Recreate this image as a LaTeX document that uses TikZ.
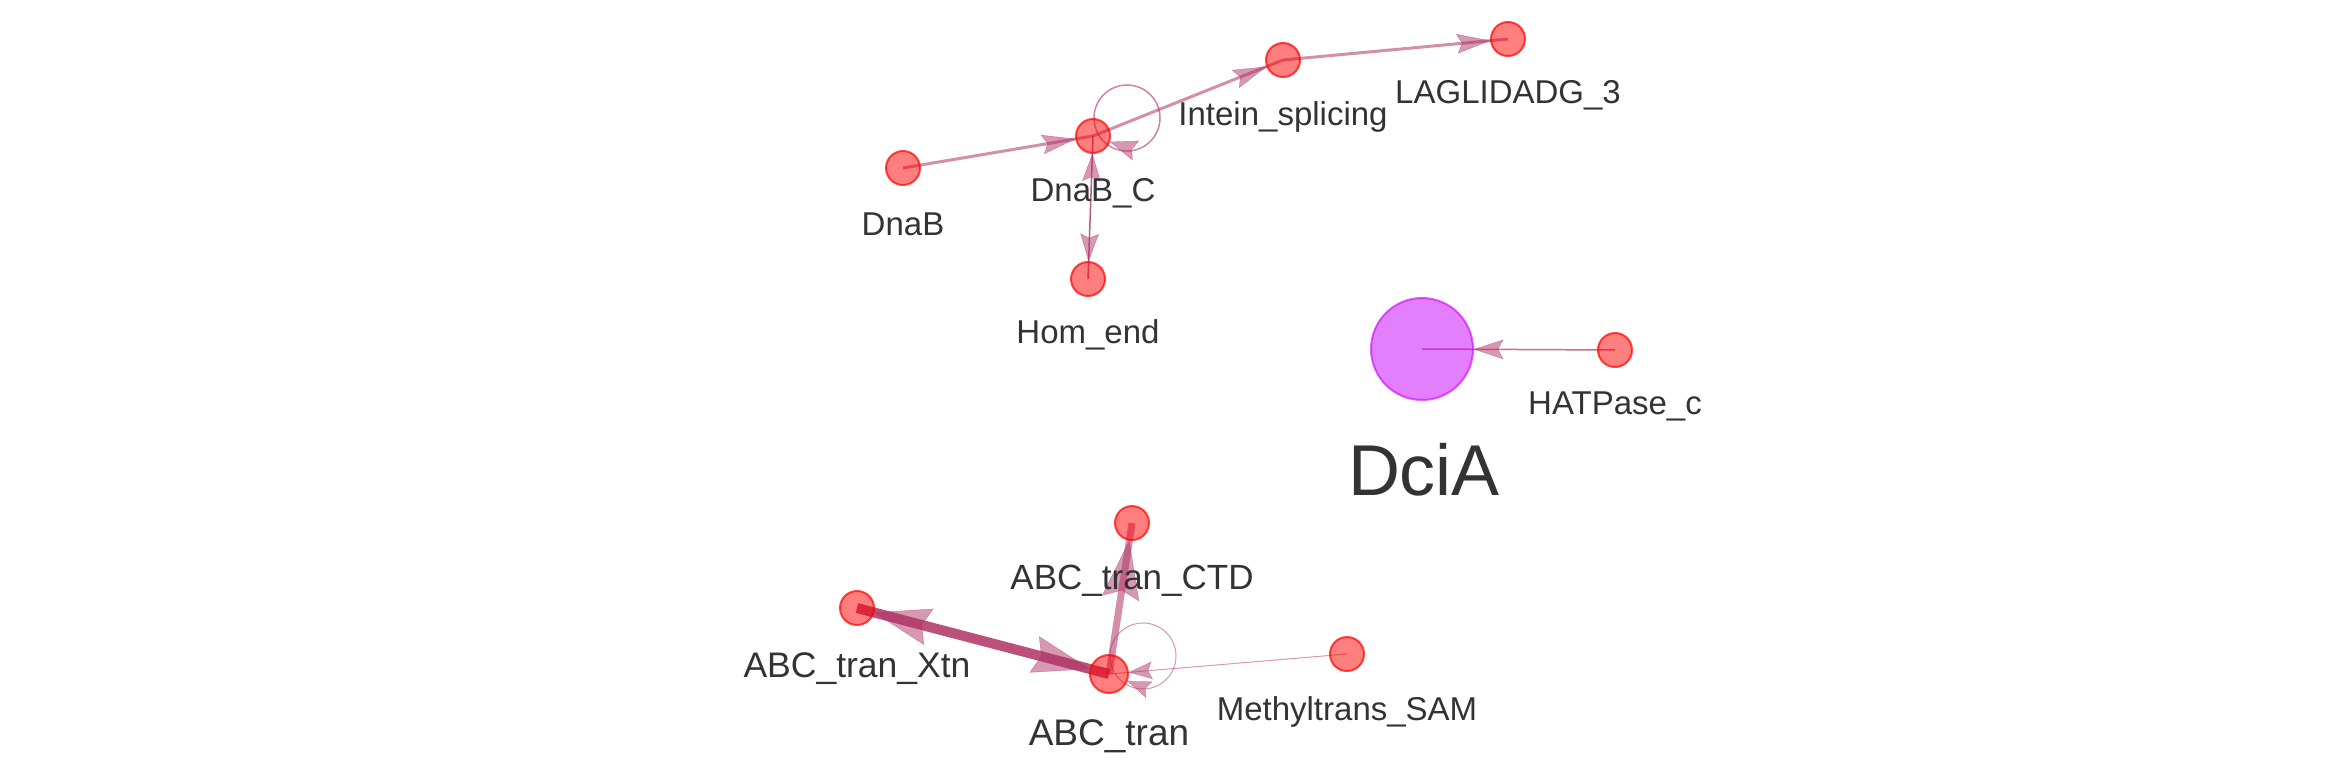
\documentclass[tikz,border=0pt]{standalone}
\usepackage{fontspec}
\setmainfont{Liberation Sans}
\usetikzlibrary{arrows.meta,decorations.markings,calc}
\pgfdeclarelayer{bg}
\pgfsetlayers{bg,main}
\definecolor{edgecol}{RGB}{175,50,100}
\definecolor{nodecol}{RGB}{255,0,0}
\definecolor{labcol}{RGB}{51,51,51}
\definecolor{dciacol}{RGB}{200,0,250}
\tikzset{
  dom/.style={circle, inner sep=0pt, minimum size=34pt, fill=nodecol, fill opacity=0.5,
    draw=nodecol, draw opacity=0.7, line width=2pt},
  lab/.style={anchor=base, text=labcol, font=\fontsize{33}{40}\selectfont, inner sep=0pt},
  edgeline/.style={draw=edgecol, draw opacity=#1},
  arrowonly/.style n args={3}{line width=0.1pt,
    decoration={markings, mark=at position 1 with {\pgfsetfillopacity{0.5}\pgfsetstrokeopacity{0.5}\pgfsetcolor{edgecol}\arrow[color=edgecol]{Stealth[length=#1pt, width=#2pt, inset=#3pt, color=edgecol]}}},
    decorate}
}
\begin{document}
\begin{tikzpicture}[x=1pt,y=-1pt]
\useasboundingbox (0,0) rectangle (2336,760);
% nodes
\node[dom] (DnaB) at (903,168) {};
\node[dom] (DnaBC) at (1093,136) {};
\node[dom] (Intein) at (1283,60) {};
\node[dom] (LAG) at (1508,39) {};
\node[dom] (Hom) at (1088,279) {};
\node[circle, inner sep=0pt, minimum size=102pt, fill=dciacol, fill opacity=0.5,
  draw=dciacol, draw opacity=0.6, line width=2pt] (DciA) at (1422,349) {};
\node[dom] (HAT) at (1615,350) {};
\node[dom] (CTD) at (1132,523) {};
\node[dom] (Xtn) at (857,608) {};
\node[dom, minimum size=38pt] (ABC) at (1109,674) {};
\node[dom] (Meth) at (1347,654) {};
% labels
\node[lab] (DnaBl) at ([yshift=-67pt]DnaB.center) {DnaB};
\node[lab] (DnaBCl) at ([yshift=-65pt]DnaBC.center) {DnaB\_C};
\node[lab] (Inteinl) at ([yshift=-65pt]Intein.center) {Intein\_splicing};
\node[lab] (LAGl) at ([yshift=-64pt]LAG.center) {LAGLIDADG\_3};
\node[lab] (Homl) at ([yshift=-64pt]Hom.center) {Hom\_end};
\node[lab, font=\fontsize{72}{86}\selectfont] (DciAl) at ([xshift=2pt,yshift=-146pt]DciA.center) {DciA};
\node[lab] (HATl) at ([yshift=-64pt]HAT.center) {HATPase\_c};
\node[lab, font=\fontsize{35}{42}\selectfont] (CTDl) at ([yshift=-66pt]CTD.center) {ABC\_tran\_CTD};
\node[lab, font=\fontsize{35.5}{42}\selectfont] (Xtnl) at ([yshift=-69pt]Xtn.center) {ABC\_tran\_Xtn};
\node[lab, font=\fontsize{37}{44}\selectfont] (ABCl) at ([yshift=-71pt]ABC.center) {ABC\_tran};
\node[lab] (Methl) at ([yshift=-66pt]Meth.center) {Methyltrans\_SAM};
% loop coordinates
\coordinate (DClp) at (1127,118);
\coordinate (DClpEnd) at (1140,152);
\coordinate (ABClp) at (1143,656);
\coordinate (ABClpEnd) at (1150,690);
\begin{pgfonlayer}{bg}
% edge lines
\draw[edgeline=0.55, line width=3pt] (DnaB.center) -- (DnaBC.center);
\draw[edgeline=0.55, line width=3pt] (DnaBC.center) -- (Intein.center);
\draw[edgeline=0.55, line width=3pt] (Intein.center) -- (LAG.center);
\draw[edgeline=0.8, line width=1.5pt] (DnaBC.center) -- (Hom.center);
\draw[edgeline=0.6, line width=1.5pt] (DClp) circle[radius=33pt];
\draw[edgeline=0.7, line width=1.5pt] (HAT.center) -- (DciA.center);
\draw[edgeline=0.85, line width=10pt] (Xtn.center) -- (ABC.center);
\draw[edgeline=0.55, line width=7pt] (ABC.center) -- (CTD.center);
\draw[edgeline=0.5, line width=1pt] (ABClp) circle[radius=33pt];
\draw[edgeline=0.5, line width=1pt] (Meth.center) -- (ABC.center);
% arrow heads
\path[arrowonly={33}{19}{5}] (DnaB) -- (DnaBC);
\path[arrowonly={33}{19}{5}] (DnaBC) -- (Intein);
\path[arrowonly={33}{19}{5}] (Intein) -- (LAG);
\path[arrowonly={27}{18}{4}] (DnaBC) -- (Hom);
\path[arrowonly={27}{18}{4}] (Hom) -- (DnaBC);
\path[arrowonly={27}{20}{4}] (DClpEnd) -- (DnaBC);
\path[arrowonly={29}{19}{5}] (HAT) -- (DciA);
\path[arrowonly={56}{37}{7}] (ABC) -- (Xtn);
\path[arrowonly={57}{37}{7}] (Xtn) -- (ABC);
\path[arrowonly={58}{37}{8}] (ABC) -- (CTD);
\path[arrowonly={23}{17}{4}] (ABClpEnd) -- (ABC);
\path[arrowonly={23}{17}{4}] (Meth) -- (ABC);
\end{pgfonlayer}
\end{tikzpicture}
\end{document}
